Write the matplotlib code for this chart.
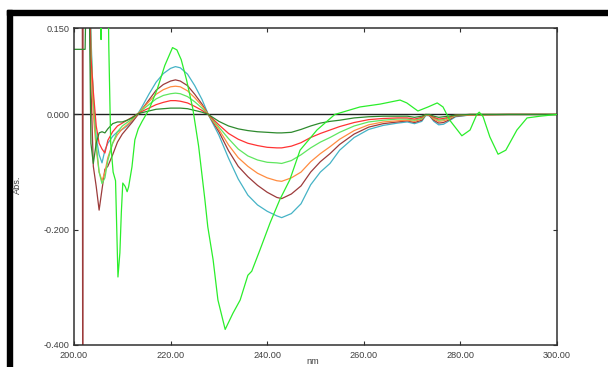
import numpy as np
import matplotlib
matplotlib.use("Agg")
import matplotlib.pyplot as plt
from matplotlib.patches import Rectangle

plt.rcParams['font.family'] = ['Liberation Sans', 'DejaVu Sans']

# wavelength grid shared by the six titration spectra
nm = [200, 201.7, 201.8, 201.9, 202.3, 202.9, 203.5, 204, 204.6, 205.2,
      205.8, 206.4, 207, 208, 209, 210, 211, 212, 213, 214,
      215.5, 217, 218.5, 220, 221, 222, 223.5, 225, 226.5, 227.8,
      230, 232, 234, 236, 238, 240, 242, 243, 245, 247,
      249, 251, 253, 255, 258, 261, 264, 267, 269, 270.5,
      272, 272.8, 273.6, 274.5, 275.5, 276.5, 277.5, 279, 282, 290, 300]

teal = [0.4, 0.4, 0.4, 0.4, 0.4, 0.4, 0.14, 0.02, -0.04, -0.07,
        -0.084, -0.062, -0.05, -0.038, -0.03, -0.026, -0.02, -0.012, -0.002, 0.012,
        0.035, 0.056, 0.071, 0.08, 0.083, 0.081, 0.07, 0.05, 0.026, 0.0,
        -0.036, -0.076, -0.112, -0.14, -0.157, -0.168, -0.176, -0.179, -0.172, -0.155,
        -0.122, -0.1, -0.085, -0.062, -0.04, -0.026, -0.019, -0.015, -0.013, -0.016,
        -0.012, -0.002, -0.002, -0.012, -0.018, -0.017, -0.012, -0.004, -0.001, 0.0, 0.0]

brown = [0.4, 0.4, -0.5, 0.4, 0.4, 0.4, 0.05, -0.09, -0.125, -0.166,
         -0.13, -0.095, -0.09, -0.07, -0.048, -0.034, -0.024, -0.014, -0.003, 0.008,
         0.025, 0.042, 0.052, 0.058, 0.06, 0.058, 0.05, 0.035, 0.018, 0.0,
         -0.03, -0.063, -0.09, -0.108, -0.123, -0.135, -0.144, -0.146, -0.138, -0.124,
         -0.1, -0.082, -0.068, -0.052, -0.034, -0.022, -0.016, -0.013, -0.011, -0.014,
         -0.01, -0.001, -0.002, -0.01, -0.015, -0.014, -0.01, -0.003, -0.001, 0.0, 0.0]

orange = [0.4, 0.4, 0.4, 0.4, 0.4, 0.4, 0.09, 0.0, -0.06, -0.1,
          -0.115, -0.1, -0.075, -0.05, -0.035, -0.025, -0.018, -0.01, -0.001, 0.008,
          0.022, 0.035, 0.043, 0.048, 0.049, 0.048, 0.041, 0.029, 0.015, 0.0,
          -0.026, -0.053, -0.075, -0.09, -0.102, -0.11, -0.115, -0.116, -0.11, -0.1,
          -0.082, -0.068, -0.056, -0.043, -0.028, -0.018, -0.013, -0.011, -0.01, -0.012,
          -0.008, -0.001, -0.001, -0.008, -0.012, -0.011, -0.008, -0.002, -0.001, 0.0, 0.0]

lgreen = [0.4, 0.4, 0.4, 0.4, 0.4, 0.4, 0.12, 0.03, -0.05, -0.1,
          -0.12, -0.11, -0.08, -0.05, -0.03, -0.02, -0.014, -0.008, 0.0, 0.007,
          0.017, 0.027, 0.033, 0.036, 0.037, 0.036, 0.031, 0.022, 0.011, 0.0,
          -0.022, -0.042, -0.06, -0.072, -0.079, -0.083, -0.084, -0.085, -0.08, -0.07,
          -0.058, -0.048, -0.04, -0.031, -0.02, -0.013, -0.01, -0.008, -0.008, -0.01,
          -0.007, -0.001, -0.001, -0.006, -0.01, -0.009, -0.006, -0.002, 0.0, 0.0, 0.0]

red = [0.4, 0.4, 0.4, 0.4, 0.4, 0.4, 0.1, 0.04, -0.02, -0.05,
       -0.06, -0.067, -0.045, -0.03, -0.02, -0.015, -0.01, -0.005, 0.0, 0.005,
       0.011, 0.017, 0.021, 0.024, 0.024, 0.023, 0.02, 0.014, 0.007, 0.0,
       -0.018, -0.033, -0.043, -0.05, -0.054, -0.057, -0.058, -0.058, -0.055, -0.049,
       -0.04, -0.033, -0.027, -0.021, -0.014, -0.009, -0.007, -0.006, -0.006, -0.008,
       -0.005, 0.0, -0.001, -0.005, -0.008, -0.007, -0.005, -0.001, 0.0, 0.0, 0.0]

dgreen = [0.113, 0.113, 0.113, 0.113, 0.113, 0.4, -0.05, -0.085, -0.05, -0.032,
          -0.03, -0.032, -0.025, -0.016, -0.013, -0.013, -0.01, -0.006, 0.0, 0.003,
          0.006, 0.009, 0.01, 0.011, 0.011, 0.011, 0.01, 0.007, 0.004, 0.0,
          -0.012, -0.02, -0.025, -0.028, -0.03, -0.031, -0.032, -0.032, -0.031, -0.026,
          -0.02, -0.015, -0.012, -0.01, -0.006, -0.004, -0.003, -0.003, -0.003, -0.005,
          -0.003, 0.0, 0.0, -0.003, -0.005, -0.004, -0.003, -0.001, 0.0, 0.0, 0.0]

# the big bright green spectrum
nm_b = [200, 205.3, 205.6, 205.9, 206.8, 207.2, 207.6, 208.1, 208.6, 209.1,
        209.5, 209.8, 210.1, 210.6, 211.0, 211.3, 212.0, 212.6, 213.3, 214.1,
        215.5, 217.2, 218.8, 220.4, 221.3, 222.2, 223.3, 224.6, 225.8, 227.1,
        227.7, 228.8, 229.8, 231.3, 232.9, 234.4, 236.0, 236.8, 238.5, 240.6,
        242.6, 244.7, 246.8, 250.3, 254.0, 259.2, 263.4, 267.5, 268.9, 271.2,
        273.3, 275.2, 276.4, 277.8, 280.3, 282.0, 283.4, 283.9, 284.7, 286.1,
        287.8, 289.4, 291.7, 293.8, 296.5, 300]
abs_b = [0.4, 0.4, 0.13, 0.4, 0.4, 0.12, -0.05, -0.1, -0.115, -0.282,
         -0.24, -0.17, -0.119, -0.125, -0.134, -0.126, -0.091, -0.044, -0.025, -0.012,
         0.008, 0.043, 0.085, 0.116, 0.112, 0.095, 0.06, 0.01, -0.055, -0.148,
         -0.195, -0.252, -0.322, -0.373, -0.345, -0.322, -0.279, -0.272, -0.235, -0.188,
         -0.148, -0.113, -0.062, -0.027, 0.0, 0.013, 0.018, 0.025, 0.02, 0.006,
         0.013, 0.02, 0.013, -0.01, -0.037, -0.027, 0.0, 0.004, -0.004, -0.039,
         -0.069, -0.062, -0.027, -0.006, -0.003, 0.0]

xticks = [200, 220, 240, 260, 280, 300]
yticks = [0.15, 0.0, -0.2, -0.4]

fig = plt.figure(figsize=(6.08, 3.67), dpi=100)
ax = fig.add_axes([74/608, 1-345/367, 483/608, 317/367])

ax.axhline(0, color='#202020', lw=1.0, zorder=1)

series = [(teal, '#45b3c6'), (brown, '#9c3b3b'), (orange, '#ff8c40'),
          (lgreen, '#5fe65f'), (red, '#ff3333'), (dgreen, '#2e8a2e')]
for vals, col in series:
    ax.plot(nm, vals, color=col, lw=0.9, zorder=2)
ax.plot(nm_b, abs_b, color='#2bee2b', lw=0.9, zorder=3)

ax.set_xlim(200, 300)
ax.set_ylim(-0.4, 0.15)
ax.set_xticks(xticks)
ax.set_xticklabels(["%.2f" % t for t in xticks])
ax.set_yticks(yticks)
ax.set_yticklabels(["%.3f" % t for t in yticks])
ax.tick_params(direction='in', length=3, width=0.8, top=True, right=True,
               labelsize=6.6, colors='#303030')
ax.tick_params(axis='x', pad=4.5, labelcolor='#404040')
ax.tick_params(axis='y', pad=3, labelcolor='#404040')
for s in ax.spines.values():
    s.set_color('#303030')
    s.set_linewidth(1.1)

fig.text(313/608, 1-362/367, "nm", ha='center', va='center', fontsize=6.6, color='#404040')
fig.text(17/608, 1-185/367, "Abs.", ha='center', va='center', rotation=90,
         fontsize=6.6, color='#404040')

# black frame bits at left and top edge
fig.patches.append(Rectangle((7/608, 0), 5/608, 1-10/367, transform=fig.transFigure,
                             color='black', zorder=0))
fig.patches.append(Rectangle((7/608, 1-15/367), 1-7/608, 5/367, transform=fig.transFigure,
                             color='black', zorder=0))

plt.savefig('out.png', dpi=100)
